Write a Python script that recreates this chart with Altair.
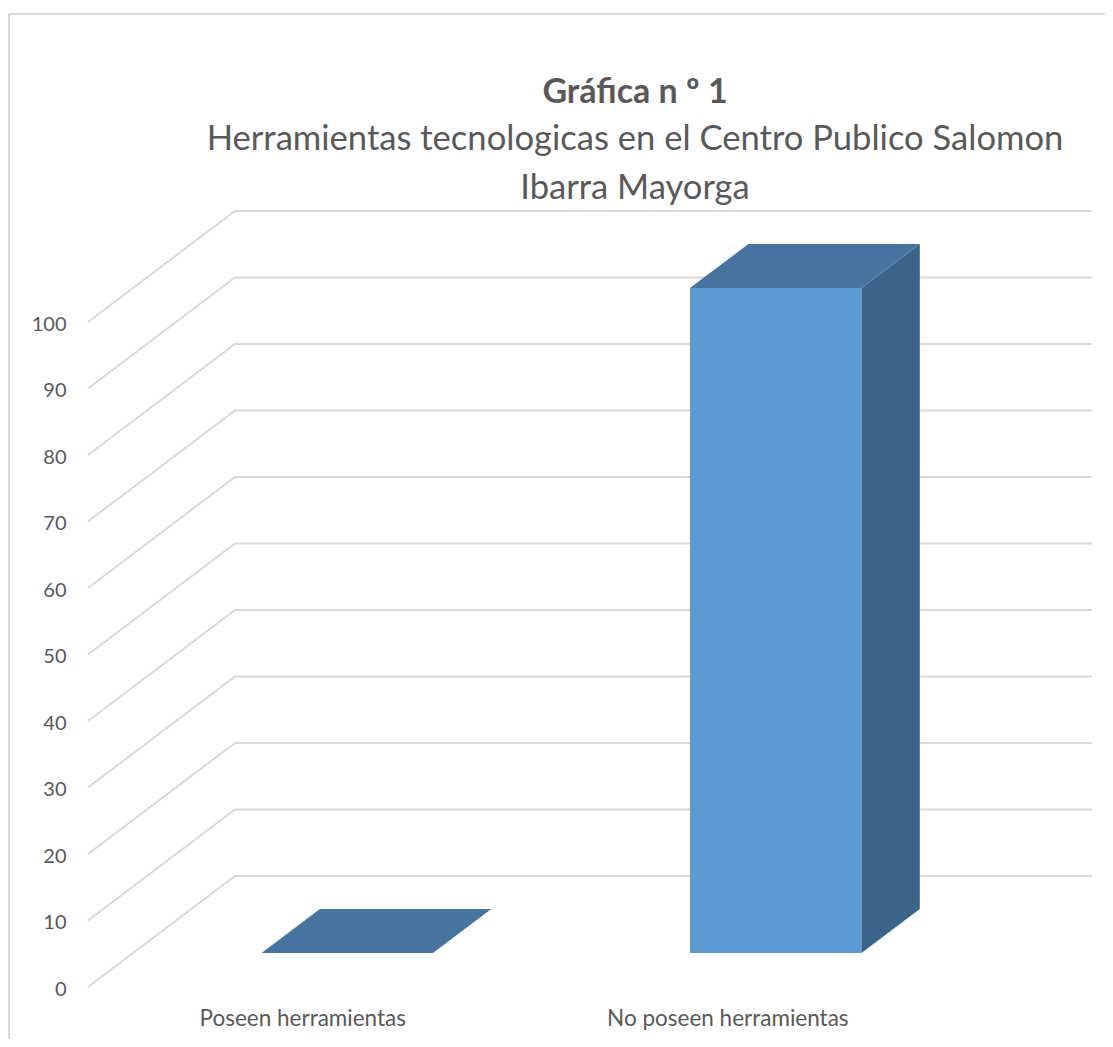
import altair as alt
import pandas as pd

categories = ["Poseen herramientas", "No poseen herramientas"]
values = [0, 100]
ticks = [0, 10, 20, 30, 40, 50, 60, 70, 80, 90, 100]
title_main = "Gráfica n º 1"
title_sub = ["Herramientas tecnologicas en el Centro Publico Salomon", "Ibarra Mayorga"]

# Pseudo-3D projection, in data units
DEPTH_X = 0.343      # category widths moved right by one unit of depth
DEPTH_Y = 16.7       # value units moved up by one unit of depth
BAR_D0, BAR_D1 = 0.306, 0.703
BAR_HALF = 0.2
X_MAX = 2.343
Y_MAX = 116.7
FONT = "Lato"
TEXT = "#595959"
GRID = "#D9D9D9"


def proj(cat_x, val, d):
    return cat_x + d * DEPTH_X, val + d * DEPTH_Y


grid_rows = []
for t in ticks:
    for name, d, cx in [("a", 0, 0.0), ("b", 1, 0.0), ("c", 1, X_MAX - DEPTH_X)]:
        px, py = proj(cx, t, d)
        grid_rows.append({"tick": t, "o": name, "x": px, "y": py})
grid_df = pd.DataFrame(grid_rows)

front, side, top = [], [], []
for i, v in enumerate(values):
    c = i + 0.5
    l, r = c - BAR_HALF, c + BAR_HALF
    if v > 0:
        x0, y0 = proj(l, 0, BAR_D0)
        x1, _ = proj(r, 0, BAR_D0)
        front += [{"bar": i, "x": x0, "y": y0 + v, "y2": y0},
                  {"bar": i, "x": x1, "y": y0 + v, "y2": y0}]
        xb, yb = proj(r, 0, BAR_D1)
        side += [{"bar": i, "x": x1, "y": y0 + v, "y2": y0},
                 {"bar": i, "x": xb, "y": yb + v, "y2": yb}]
    xa, ya = proj(l, v, BAR_D0)
    xc, _ = proj(r, v, BAR_D0)
    xd, yd = proj(l, v, BAR_D1)
    xe, _ = proj(r, v, BAR_D1)
    top += [{"bar": i, "x": xa, "y": ya, "y2": ya},
            {"bar": i, "x": xd, "y": yd, "y2": ya},
            {"bar": i, "x": xc, "y": yd, "y2": ya},
            {"bar": i, "x": xe, "y": yd, "y2": yd}]

xs = alt.Scale(domain=[0, X_MAX], nice=False, zero=False)
ys = alt.Scale(domain=[0, Y_MAX], nice=False, zero=False)

label_expr = f"datum.value < 1 ? '{categories[0]}' : '{categories[1]}'"
x_enc = alt.X("x:Q", scale=xs,
              axis=alt.Axis(values=[0.5, 1.492], labelExpr=label_expr, title=None, domain=False,
                            ticks=False, grid=False, labelFont=FONT, labelFontSize=22.5,
                            labelColor=TEXT, labelPadding=20, labelOverlap=False, labelLimit=400))
y_enc = alt.Y("y:Q", scale=ys,
              axis=alt.Axis(values=ticks, title=None, domain=False, ticks=False, grid=False,
                            labelFont=FONT, labelFontSize=20, labelColor=TEXT, labelPadding=22,
                            labelOffset=2))

grid = alt.Chart(grid_df).mark_line(stroke=GRID, strokeWidth=2).encode(
    x=x_enc, y=y_enc, detail="tick:N", order="o:N")


def face(rows, color):
    return alt.Chart(pd.DataFrame(rows)).mark_area(color=color, opacity=1).encode(
        x=alt.X("x:Q", scale=xs), y=alt.Y("y:Q", scale=ys), y2="y2:Q", detail="bar:N")


border_v = alt.Chart(pd.DataFrame({"a": [0]})).mark_rule(stroke=GRID, strokeWidth=2).encode(
    x=alt.value(-79), y=alt.value(-197), y2=alt.value(840))
border_h = alt.Chart(pd.DataFrame({"a": [0]})).mark_rule(stroke=GRID, strokeWidth=2).encode(
    x=alt.value(-79), x2=alt.value(1025), y=alt.value(-197))

chart = alt.layer(border_v, border_h, grid, face(front, "#5B9BD5"), face(side, "#3A6488"), face(top, "#46749F")).properties(
    width=1004, height=776,
    autosize=alt.AutoSizeParams(type="none"),
    padding={"left": 80, "top": 203, "right": 13, "bottom": 52},
    title=alt.TitleParams(text=title_main, subtitle=title_sub, anchor="middle", frame="group", dx=45,
                          font=FONT, fontSize=34, fontWeight="bold", color=TEXT,
                          subtitleFont=FONT, subtitleFontSize=34.6, subtitleColor=TEXT,
                          subtitleLineHeight=49, subtitlePadding=13, offset=-193),
).configure_view(stroke=None)

chart.save("out.html", embed_options={"renderer": "svg", "actions": False})
